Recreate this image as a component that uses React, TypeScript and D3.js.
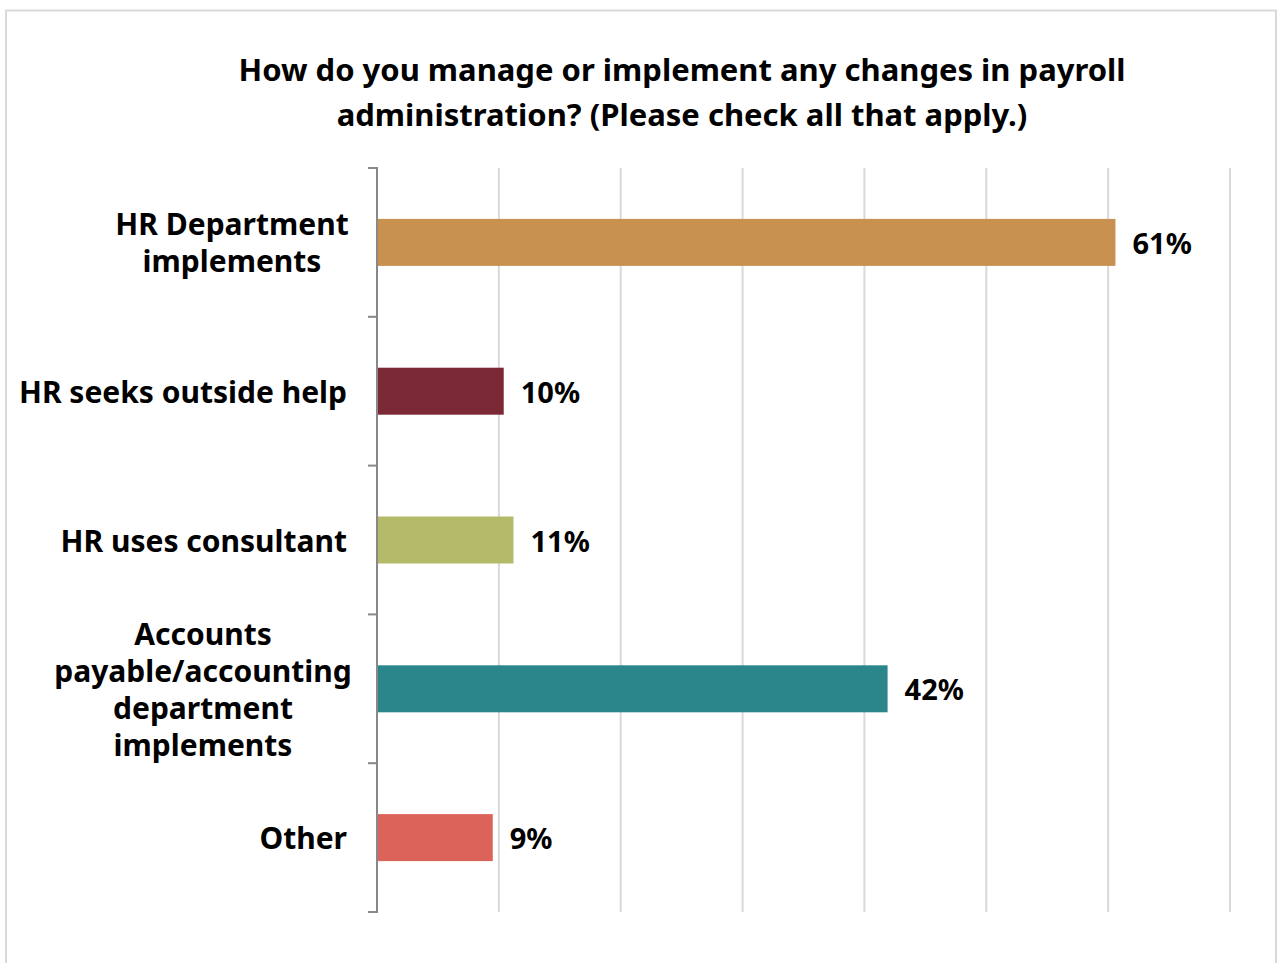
import React from 'react';
import * as d3 from 'd3';

const W = 1277;
const H = 963;

const categories = [
  ['HR Department', 'implements'],
  ['HR seeks outside help'],
  ['HR uses consultant'],
  ['Accounts', 'payable/accounting', 'department', 'implements'],
  ['Other'],
];
const values = [60.6, 10.4, 11.2, 41.9, 9.5];
const valueLabels = ['61%', '10%', '11%', '42%', '9%'];
const barColors = ['#C9914F', '#7B2A35', '#B5B96A', '#2B868B', '#DB6359'];
const gridTicks = [0, 10, 20, 30, 40, 50, 60, 70];
const titleLines = [
  'How do you manage or implement any changes in payroll',
  'administration? (Please check all that apply.)',
];

const FONT = '"Noto Sans", "DejaVu Sans", sans-serif';

export default function App() {
  const x = d3.scaleLinear().domain([0, 70]).range([377, 1230]);
  const keys = categories.map((_, i) => String(i));
  const y = d3.scaleBand().domain(keys).range([168, 912]).padding(0);
  const barH = 47;
  const lineH = 37;

  return (
    <svg
      width={W}
      height={H}
      style={{ position: 'absolute', left: 0, top: 0, background: '#fff' }}
      fontFamily={FONT}
    >
      <rect x={6} y={10.5} width={1270} height={H + 20} fill="#fff" stroke="#d9d9d9" strokeWidth={2} />

      {titleLines.map((t, i) => (
        <text
          key={t}
          x={682}
          y={69 + i * 45}
          textAnchor="middle"
          dominantBaseline="central"
          fontSize={31}
          fontWeight="bold"
          fill="#000"
        >
          {t}
        </text>
      ))}

      {/* gridlines */}
      {gridTicks.slice(1).map((t) => (
        <line key={t} x1={x(t)} x2={x(t)} y1={168} y2={912} stroke="#d9d9d9" strokeWidth={2} />
      ))}

      {/* bars */}
      {values.map((v, i) => {
        const cy = (y(keys[i]) as number) + y.bandwidth() / 2;
        return (
          <g key={i}>
            <rect x={x(0)} y={cy - barH / 2} width={x(v) - x(0)} height={barH} fill={barColors[i]} />
            <text
              x={x(v) + 17}
              y={cy}
              dominantBaseline="central"
              fontSize={29}
              fontWeight="bold"
              fill="#000"
            >
              {valueLabels[i]}
            </text>
          </g>
        );
      })}

      {/* axis */}
      <line x1={x(0)} x2={x(0)} y1={167} y2={913} stroke="#888" strokeWidth={2} />
      {keys.map((k) => (
        <line key={k} x1={368} x2={x(0)} y1={y(k) as number} y2={y(k) as number} stroke="#888" strokeWidth={2} />
      ))}
      <line x1={368} x2={x(0)} y1={912} y2={912} stroke="#888" strokeWidth={2} />

      {/* category labels */}
      {categories.map((lines, i) => {
        const cy = (y(keys[i]) as number) + y.bandwidth() / 2;
        return (
          <g key={i}>
            {lines.map((l, j) => (
              <text
                key={j}
                x={lines.length > 1 ? (i === 0 ? 232 : 203) : 347}
                y={cy + (j - (lines.length - 1) / 2) * lineH}
                textAnchor={lines.length > 1 ? 'middle' : 'end'}
                dominantBaseline="central"
                fontSize={30}
                fontWeight="bold"
                fill="#000"
              >
                {l}
              </text>
            ))}
          </g>
        );
      })}
    </svg>
  );
}
